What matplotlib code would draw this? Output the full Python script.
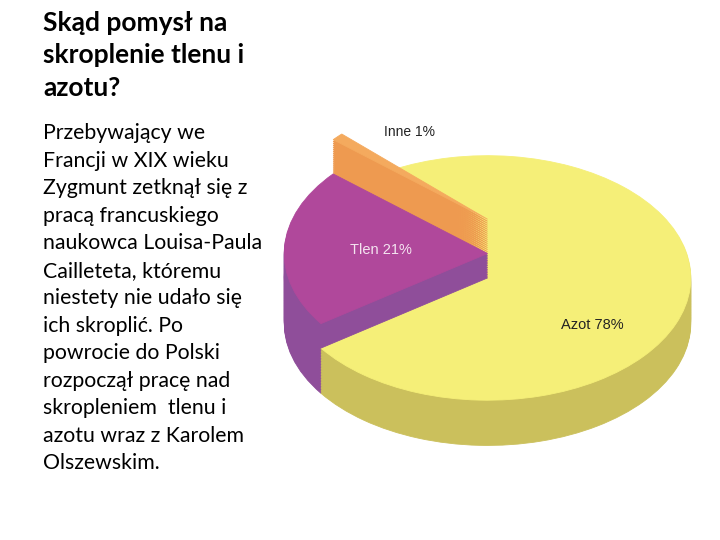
import numpy as np
import matplotlib.pyplot as plt

# slide text
title_lines = ["Skąd pomysł na", "skroplenie tlenu i", "azotu?"]
body_lines = [
    "Przebywający we",
    "Francji w XIX wieku",
    "Zygmunt zetknął się z",
    "pracą francuskiego",
    "naukowca Louisa-Paula",
    "Cailleteta, któremu",
    "niestety nie udało się",
    "ich skroplić. Po",
    "powrocie do Polski",
    "rozpoczął pracę nad",
    "skropleniem  tlenu i",
    "azotu wraz z Karolem",
    "Olszewskim.",
]

# pie data (order: Azot, Inne, Tlen)
labels = ["Azot", "Inne", "Tlen"]
shares = [78, 1, 21]
top_colors = ["#f5ef78", "#f4aa5e", "#b0489b"]
side_colors = ["#cbc05c", "#ee9a50", "#8f4e9a"]
lift = [0.0, 0.48, 0.20]         # Tlen and Inne stand higher than Azot

fig = plt.figure(figsize=(7.2, 5.4), dpi=100)
fig.patch.set_facecolor("white")

fig.text(43 / 720, 1 - 11 / 540, "\n".join(title_lines), fontsize=19,
         fontweight="bold", family="Lato", va="top", ha="left",
         linespacing=1.42, color="black")
fig.text(43 / 720, 1 - 123 / 540, "\n".join(body_lines), fontsize=15.3,
         family="Lato", va="top", ha="left", linespacing=1.47, color="black")

# pie axes (squashed circle -> ellipse)
ax = fig.add_axes([270 / 720, 75 / 540, 435 / 720, 335 / 540])

thickness = 0.37
start = 215


def draw_slice(idx, top_off, bottom_off, zbase, with_top=True, n=30):
    offs = np.linspace(bottom_off, top_off, n)
    for k, off in enumerate(offs):
        is_top = with_top and k == n - 1
        wedges, _ = ax.pie(shares, colors=top_colors if is_top else side_colors,
                           startangle=start, counterclock=True,
                           center=(0, off), radius=1,
                           wedgeprops=dict(linewidth=0.6))
        for j, w in enumerate(wedges):
            if j != idx:
                w.set_visible(False)
            else:
                w.set_edgecolor(w.get_facecolor())
                w.set_zorder(zbase + k)


# back to front
draw_slice(2, 0.0, -thickness, 0, with_top=False)            # Tlen, lower part
draw_slice(0, 0.0, -thickness, 100)                          # Azot
draw_slice(1, lift[1], 0.0, 200, n=30)                       # Inne, above Azot
draw_slice(2, lift[2], 0.0, 300, n=15)                       # Tlen, upper part + top

ax.set_aspect("auto")
ax.set_xlim(-1.07, 1.07)
ax.set_ylim(-1.53, 1.21)
ax.axis("off")

# labels
fig.text(410 / 720, 1 - 132 / 540, f"{labels[1]} {shares[1]}%", fontsize=10,
         family="Liberation Sans", ha="center", va="center", color="#222222")
fig.text(381 / 720, 1 - 250 / 540, f"{labels[2]} {shares[2]}%", fontsize=10.5,
         family="Liberation Sans", ha="center", va="center", color="#f4e4f0")
fig.text(592 / 720, 1 - 325 / 540, f"{labels[0]} {shares[0]}%", fontsize=10.5,
         family="Liberation Sans", ha="center", va="center", color="#222222")

fig.savefig("out.png", dpi=100)
